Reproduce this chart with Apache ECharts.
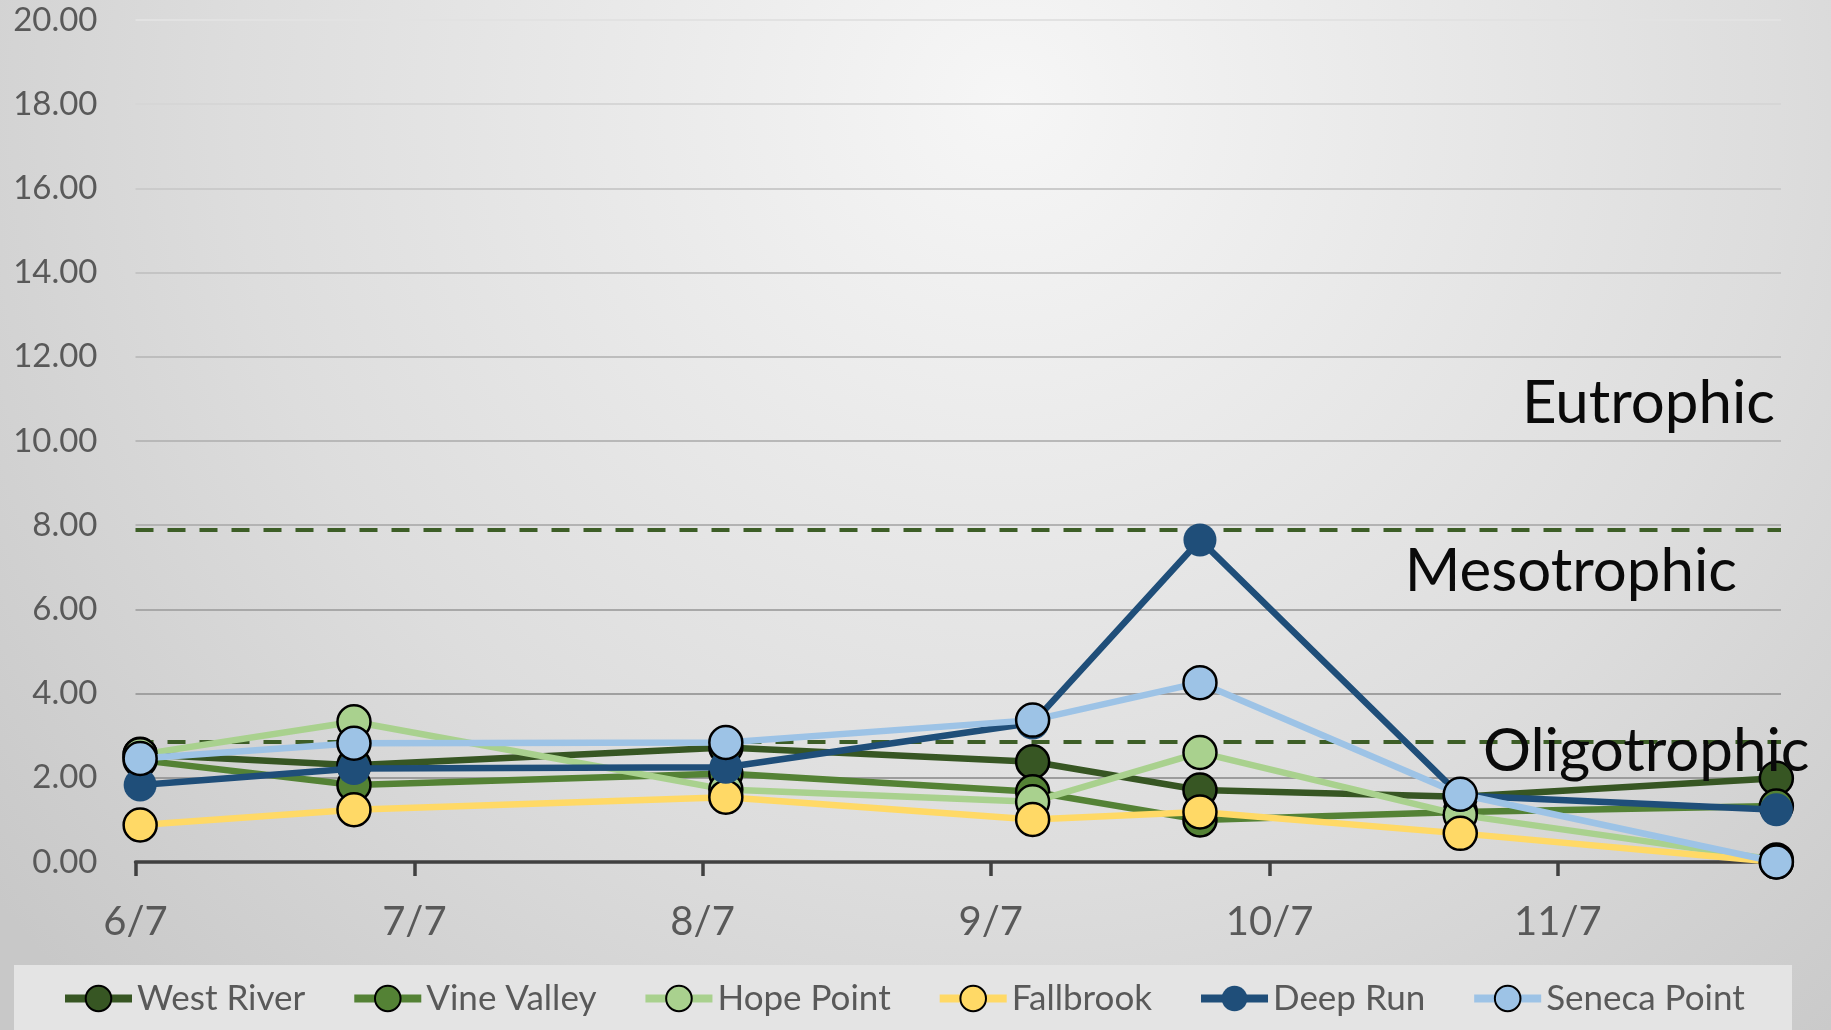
<!DOCTYPE html>
<html><head><meta charset="utf-8">
<script src="https://cdn.jsdelivr.net/npm/echarts@6/dist/echarts.min.js"></script>
<style>html,body{margin:0;padding:0;width:1831px;height:1030px;overflow:hidden}#c{width:1831px;height:1030px}</style>
</head><body><div id="c"></div>
<script>
// ---- data ----
const sampleDates = ['2023-06-07','2023-06-30','2023-08-09','2023-09-11','2023-09-29','2023-10-27','2023-11-30'];
const tickDates = ['2023-06-07','2023-07-07','2023-08-07','2023-09-07','2023-10-07','2023-11-07'];
const axisStart = '2023-06-07';
const axisEnd = '2023-12-01';
const seriesNames = ['West River','Vine Valley','Hope Point','Fallbrook','Deep Run','Seneca Point'];
const westRiver   = [2.56, 2.30, 2.72, 2.38, 1.71, 1.55, 1.99];
const vineValley  = [2.42, 1.83, 2.10, 1.67, 1.00, 1.19, 1.33];
const hopePoint   = [2.55, 3.33, 1.72, 1.43, 2.60, 1.12, 0.05];
const fallbrook   = [0.88, 1.24, 1.54, 1.01, 1.19, 0.68, 0.00];
const deepRun     = [1.83, 2.22, 2.25, 3.30, 7.65, 1.58, 1.24];
const senecaPoint = [2.46, 2.82, 2.84, 3.37, 4.26, 1.61, 0.00];
const thresholds = [2.85, 7.9];
const zoneLabels = ['Eutrophic','Mesotrophic','Oligotrophic'];
const yTicks = {min: 0, max: 20, interval: 2};

// ---- build ----
const FONT = "Lato, 'Liberation Sans', Arial, sans-serif";
const DAY = 86400000;
function ts(s){ const p = s.split('-').map(Number); return Date.UTC(p[0], p[1]-1, p[2]); }
function md(v){ const d = new Date(v); return (d.getUTCMonth()+1) + '/' + d.getUTCDate(); }
const values = [westRiver, vineValley, hopePoint, fallbrook, deepRun, senecaPoint];
const colors = ['#375623','#548235','#A9D18E','#FFD966','#1F4E79','#9DC3E6'];
const tickVals = tickDates.map(ts);

const series = values.map((arr, i) => {
  const isDeep = seriesNames[i] === 'Deep Run';
  const s = {
    name: seriesNames[i], type: 'line',
    data: arr.map((v, k) => [ts(sampleDates[k]) + DAY/2, v]),
    symbol: 'circle', symbolSize: 33,
    lineStyle: {color: colors[i], width: 6.5},
    itemStyle: {color: colors[i], borderColor: isDeep ? colors[i] : '#000', borderWidth: isDeep ? 0 : 2.5},
    emphasis: {disabled: true},
    z: 3 + i
  };
  if (i === 0) {
    s.markLine = {
      silent: true, symbol: 'none', label: {show: false},
      lineStyle: {type: [18, 14], color: '#3d5e27', width: 4},
      data: thresholds.map(v => ({yAxis: v}))
    };
  }
  return s;
});

const gridColors = ['#999','#9c9c9c','#a0a0a0','#a8a8a8','#b3b3b3','#b8b8b8','#bdbdbd','#c4c4c4','#cbcbcb','#d6d6d6','#e2e2e2'];

const chart = echarts.init(document.getElementById('c'), null, {renderer: 'canvas'});
chart.setOption({
  animation: false,
  backgroundColor: {type: 'radial', x: 0.55, y: 0.1, r: 1.25,
    colorStops: [{offset: 0, color: '#f6f6f6'}, {offset: 0.6, color: '#dddddd'}, {offset: 1, color: '#c8c8c8'}]},
  grid: {left: 135.5, right: 50, top: 20, bottom: 168, containLabel: false},
  xAxis: {
    type: 'value', min: ts(axisStart), max: ts(axisEnd),
    axisLine: {lineStyle: {color: '#404040', width: 3.5}},
    axisTick: {show: true, customValues: tickVals, length: 14, lineStyle: {color: '#404040', width: 3.5}},
    axisLabel: {customValues: tickVals, formatter: v => md(v), fontSize: 40, color: '#595959', fontFamily: FONT, margin: 40},
    splitLine: {show: false}
  },
  yAxis: {
    type: 'value', min: yTicks.min, max: yTicks.max, interval: yTicks.interval,
    axisLine: {show: false}, axisTick: {show: false},
    axisLabel: {formatter: v => v.toFixed(2), fontSize: 33, color: '#595959', fontFamily: FONT, margin: 38},
    splitLine: {lineStyle: {color: gridColors, width: 2}}
  },
  legend: {
    data: seriesNames, left: 61, top: 981, padding: 0,
    itemWidth: 67, itemHeight: 32, itemGap: 45,
    lineStyle: {width: 8},
    textStyle: {fontSize: 35, color: '#595959', fontFamily: FONT, padding: [0,0,0,0]},
    selectedMode: false
  },
  graphic: [
    {type: 'rect', z: 0, silent: true, shape: {x: 14, y: 965, width: 1778, height: 70}, style: {fill: '#e4e4e4'}},
    {type: 'text', z: 100, silent: true, x: 1775, y: 404, style: {text: zoneLabels[0], font: '60px ' + FONT, fill: '#0a0a0a', align: 'right', verticalAlign: 'middle'}},
    {type: 'text', z: 100, silent: true, x: 1737, y: 572, style: {text: zoneLabels[1], font: '60px ' + FONT, fill: '#0a0a0a', align: 'right', verticalAlign: 'middle'}},
    {type: 'text', z: 100, silent: true, x: 1483, y: 752, style: {text: zoneLabels[2], font: '60px ' + FONT, fill: '#0a0a0a', align: 'left', verticalAlign: 'middle'}}
  ],
  series: series
});
</script></body></html>
